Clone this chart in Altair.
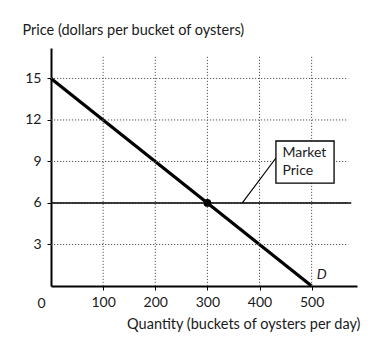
import altair as alt
import pandas as pd

# ---- data ----
quantity = [0, 500]
price = [15, 0]
eq_quantity = [300]
eq_price = [6]
market_price = [6]
x_tick_values = [100, 200, 300, 400, 500]
y_tick_values = [3, 6, 9, 12, 15]

FONT = "Lato"
TXT = "#1a1a1a"
XMAX = 587
YMAX = 17.2

xs = alt.Scale(domain=[0, XMAX], nice=False, zero=False)
ys = alt.Scale(domain=[0, YMAX], nice=False, zero=False)

x_axis = alt.Axis(
    values=x_tick_values,
    title="Quantity (buckets of oysters per day)",
    titleAngle=0,
    titleX=309,
    titleY=42,
    titleAlign="right",
    titleBaseline="alphabetic",
    titleFont=FONT,
    titleFontSize=14.5,
    titleFontWeight="normal",
    titleColor=TXT,
    labelFont=FONT,
    labelFontSize=14,
    labelColor=TXT,
    labelPadding=5,
    tickSize=4,
    tickColor="black",
    domainColor="black",
    domainWidth=2,
    grid=False,
    labelFlush=False,
)
y_axis = alt.Axis(
    values=y_tick_values,
    title="Price (dollars per bucket of oysters)",
    titleAngle=0,
    titleX=-29,
    titleY=-14,
    titleAlign="left",
    titleBaseline="alphabetic",
    titleFont=FONT,
    titleFontSize=14.5,
    titleFontWeight="normal",
    titleColor=TXT,
    labelFont=FONT,
    labelFontSize=14,
    labelColor=TXT,
    labelPadding=6,
    tickSize=4,
    tickColor="black",
    domainColor="black",
    domainWidth=2,
    grid=False,
    labelFlush=False,
)

demand_df = pd.DataFrame({"q": quantity, "p": price})
eq_df = pd.DataFrame({"q": eq_quantity, "p": eq_price})
vgrid_df = pd.DataFrame({"q": x_tick_values, "y1": [0] * 5, "y2": [16.6] * 5})
hgrid_df = pd.DataFrame({"p": y_tick_values, "x1": [0] * 5, "x2": [570] * 5})
mp_df = pd.DataFrame({"p": market_price, "x1": [0], "x2": [576]})

grid_style = dict(color="#555555", strokeWidth=1, strokeDash=[1.2, 1.8])


def X(f):
    return alt.X(f, scale=xs, axis=x_axis)


def Y(f):
    return alt.Y(f, scale=ys, axis=y_axis)


vgrid = alt.Chart(vgrid_df).mark_rule(**grid_style).encode(
    x=X("q:Q"), y=Y("y1:Q"), y2="y2:Q"
)
hgrid = alt.Chart(hgrid_df).mark_rule(**grid_style).encode(
    y=Y("p:Q"), x=X("x1:Q"), x2="x2:Q"
)
mp_line = alt.Chart(mp_df).mark_rule(color="black", strokeWidth=1.6).encode(
    y=Y("p:Q"), x=X("x1:Q"), x2="x2:Q"
)
demand = alt.Chart(demand_df).mark_line(color="black", strokeWidth=3.2).encode(
    x=X("q:Q"), y=Y("p:Q")
)
point = alt.Chart(eq_df).mark_circle(color="black", opacity=1, size=60).encode(
    x=X("q:Q"), y=Y("p:Q")
)

# annotation: leader line + box + text
leader_df = pd.DataFrame({"x": [367], "y": [6], "x2": [431.5], "y2": [9.25]})
leader = alt.Chart(leader_df).mark_rule(color="black", strokeWidth=1.2).encode(
    x=X("x:Q"), y=Y("y:Q"), x2="x2:Q", y2="y2:Q"
)
box_df = pd.DataFrame({"x": [431.5], "x2": [543], "y": [7.44], "y2": [10.48]})
box = alt.Chart(box_df).mark_rect(fill="white", stroke="black", strokeWidth=1.3).encode(
    x=X("x:Q"), x2="x2:Q", y=Y("y:Q"), y2="y2:Q"
)
label_df = pd.DataFrame({"x": [444, 444], "y": [9.32, 8.0], "t": ["Market", "Price"]})
labels = alt.Chart(label_df).mark_text(
    font=FONT, fontSize=14, align="left", baseline="alphabetic", color=TXT
).encode(x=X("x:Q"), y=Y("y:Q"), text="t:N")

d_df = pd.DataFrame({"x": [510], "y": [0.5], "t": ["D"]})
d_label = alt.Chart(d_df).mark_text(
    font=FONT, fontSize=14, fontStyle="italic", align="left", baseline="alphabetic", color=TXT
).encode(x=X("x:Q"), y=Y("y:Q"), text="t:N")

zero_df = pd.DataFrame({"x": [0], "y": [0], "t": ["0"]})
zero_label = alt.Chart(zero_df).mark_text(
    font=FONT, fontSize=14, align="center", baseline="alphabetic", color=TXT, dx=-9.5, dy=22
).encode(x=X("x:Q"), y=Y("y:Q"), text="t:N")

chart = (
    alt.layer(demand, vgrid, hgrid, mp_line, point, leader, box, labels, d_label, zero_label)
    .properties(
        width=306,
        height=238,
        autosize=alt.AutoSizeParams(type="none"),
        padding={"left": 51, "top": 48, "right": 24, "bottom": 67},
        background="white",
    )
    .configure_view(stroke=None)
)

chart.save("out.html", embed_options={"renderer": "svg", "actions": False})
